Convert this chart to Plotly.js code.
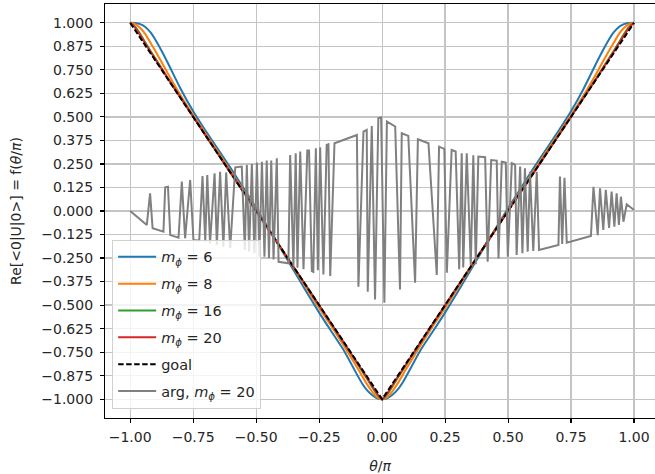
<!DOCTYPE html>
<html>
<head>
<meta charset="utf-8">
<script src="https://cdn.plot.ly/plotly-3.0.1.min.js"></script>
<style>html,body{margin:0;padding:0;background:#fff;} #plot{width:655px;height:474px;}</style>
</head>
<body>
<div id="plot"></div>
<script>
// curve sample positions (theta/pi)
const curveX = [-1, -0.98, -0.96, -0.94, -0.92, -0.9, -0.875, -0.85, -0.8, -0.75, -0.7, -0.6, -0.5, -0.4, -0.3, -0.25, -0.2, -0.15, -0.1, -0.08, -0.06, -0.04, -0.02, 0,
                0.02, 0.04, 0.06, 0.08, 0.1, 0.15, 0.2, 0.25, 0.3, 0.4, 0.5, 0.6, 0.7, 0.75, 0.8, 0.85, 0.875, 0.9, 0.92, 0.94, 0.96, 0.98, 1];
const m6 = [1.0, 0.999, 0.993, 0.978, 0.95, 0.91, 0.85, 0.785, 0.65, 0.53, 0.425, 0.225, 0.015, -0.205, -0.43, -0.54, -0.643, -0.745, -0.868, -0.915, -0.952, -0.978, -0.995, -1.0,
            -0.995, -0.978, -0.952, -0.915, -0.868, -0.745, -0.643, -0.54, -0.43, -0.205, 0.015, 0.225, 0.425, 0.53, 0.65, 0.785, 0.85, 0.91, 0.95, 0.978, 0.993, 0.999, 1.0];
const m8 = [1.0, 0.993, 0.972, 0.94, 0.895, 0.85, 0.79, 0.73, 0.615, 0.51, 0.41, 0.21, 0.005, -0.2, -0.41, -0.515, -0.615, -0.72, -0.83, -0.875, -0.92, -0.96, -0.99, -1.0,
            -0.99, -0.96, -0.92, -0.875, -0.83, -0.72, -0.615, -0.515, -0.41, -0.2, 0.005, 0.21, 0.41, 0.51, 0.615, 0.73, 0.79, 0.85, 0.895, 0.94, 0.972, 0.993, 1.0];
const m16 = [1.0, 0.978, 0.94, 0.895, 0.852, 0.81, 0.757, 0.705, 0.603, 0.502, 0.401, 0.2, 0.0, -0.2, -0.401, -0.502, -0.603, -0.705, -0.808, -0.85, -0.89, -0.935, -0.975, -1.0,
             -0.975, -0.935, -0.89, -0.85, -0.808, -0.705, -0.603, -0.502, -0.401, -0.2, 0.0, 0.2, 0.401, 0.502, 0.603, 0.705, 0.757, 0.81, 0.852, 0.895, 0.94, 0.978, 1.0];
const m20 = [1.0, 0.973, 0.933, 0.89, 0.847, 0.806, 0.755, 0.703, 0.602, 0.501, 0.4, 0.2, 0.0, -0.2, -0.4, -0.501, -0.602, -0.703, -0.805, -0.845, -0.886, -0.928, -0.97, -1.0,
             -0.97, -0.928, -0.886, -0.845, -0.805, -0.703, -0.602, -0.501, -0.4, -0.2, 0.0, 0.2, 0.4, 0.501, 0.602, 0.703, 0.755, 0.806, 0.847, 0.89, 0.933, 0.973, 1.0];
const goalX = [-1, 0, 1];
const goalY = [1, -1, 1];
// arg, m_phi = 20
const argX = [-1.0, -0.934, -0.921, -0.911, -0.868, -0.861, -0.85, -0.841, -0.808, -0.795, -0.782, -0.762, -0.749, -0.726, -0.713, -0.702, -0.694, -0.683, -0.665, -0.656,
  -0.643, -0.63, -0.619, -0.603, -0.583, -0.557, -0.545, -0.537, -0.528, -0.517, -0.507, -0.497, -0.487, -0.477, -0.467, -0.458, -0.449, -0.44, -0.431, -0.418,
  -0.411, -0.372, -0.365, -0.352, -0.343, -0.336, -0.325, -0.312, -0.297, -0.29, -0.279, -0.273, -0.263, -0.255, -0.246, -0.233, -0.22, -0.213, -0.206, -0.189,
  -0.1, -0.094, -0.074, -0.061, -0.057, -0.041, -0.028, -0.015, -0.004, 0.009, 0.019, 0.052, 0.071, 0.078, 0.104, 0.131, 0.142, 0.184, 0.217, 0.226,
  0.247, 0.257, 0.276, 0.292, 0.306, 0.316, 0.322, 0.336, 0.352, 0.362, 0.372, 0.382, 0.409, 0.419, 0.433, 0.455, 0.462, 0.475, 0.491, 0.499,
  0.515, 0.528, 0.534, 0.548, 0.557, 0.567, 0.578, 0.587, 0.6, 0.614, 0.623, 0.7, 0.706, 0.715, 0.724, 0.733, 0.829, 0.839, 0.856, 0.865,
  0.878, 0.888, 0.901, 0.911, 0.922, 0.931, 0.94, 0.948, 0.958, 0.971, 1.0];
const argY = [0.0, -0.074, 0.094, -0.092, -0.11, 0.126, 0.129, -0.128, -0.142, 0.156, -0.145, 0.165, -0.154, -0.158, 0.186, -0.163, 0.191, -0.172, 0.2, -0.181,
  0.209, -0.19, 0.205, -0.198, 0.232, 0.236, -0.207, 0.245, -0.216, 0.25, -0.225, 0.257, -0.243, 0.262, -0.243, 0.268, -0.25, 0.268, -0.257, 0.28,
  -0.27, -0.278, 0.298, -0.296, 0.307, -0.302, 0.316, -0.31, 0.321, 0.321, -0.319, -0.323, 0.333, -0.315, 0.339, -0.337, 0.351, 0.355, -0.346, 0.36,
  0.404, -0.402, 0.422, 0.431, -0.429, 0.452, -0.47, 0.493, 0.498, -0.488, 0.475, 0.449, -0.417, 0.413, 0.399, -0.381, 0.381, 0.36, -0.34, 0.342,
  0.33, -0.328, 0.324, 0.316, -0.31, 0.307, -0.3, 0.307, -0.287, 0.296, -0.283, 0.289, 0.286, -0.27, 0.271, 0.268, -0.252, 0.262, 0.257, -0.243,
  0.254, 0.245, -0.234, 0.236, -0.225, 0.227, -0.216, 0.209, -0.213, 0.209, -0.207, -0.181, 0.183, -0.175, 0.176, -0.169, -0.133, 0.129, -0.128, 0.121,
  -0.101, 0.112, -0.09, 0.103, -0.083, 0.094, -0.074, 0.076, -0.057, 0.036, 0.005];

const xTickVals = [-1, -0.75, -0.5, -0.25, 0, 0.25, 0.5, 0.75, 1];
const xTickText = ["\u22121.00", "\u22120.75", "\u22120.50", "\u22120.25", "0.00", "0.25", "0.50", "0.75", "1.00"];
const yTickVals = [-1, -0.875, -0.75, -0.625, -0.5, -0.375, -0.25, -0.125, 0, 0.125, 0.25, 0.375, 0.5, 0.625, 0.75, 0.875, 1];
const yTickText = ["\u22121.000", "\u22120.875", "\u22120.750", "\u22120.625", "\u22120.500", "\u22120.375", "\u22120.250", "\u22120.125", "0.000",
  "0.125", "0.250", "0.375", "0.500", "0.625", "0.750", "0.875", "1.000"];

const FONT = 'DejaVu Sans, sans-serif';
function curve(y, name, color, grp) {
  return {x: curveX, y: y, type: 'scatter', mode: 'lines', name: name, legendgroup: grp,
          line: {color: color, width: 2, shape: 'spline', smoothing: 0.5}};
}
const traces = [
  curve(m6, '<i>m</i><sub><i>ϕ</i></sub> = 6', '#1f77b4', 'a'),
  curve(m8, '<i>m</i><sub><i>ϕ</i></sub> = 8', '#ff7f0e', 'b'),
  curve(m16, '<i>m</i><sub><i>ϕ</i></sub> = 16', '#2ca02c', 'c'),
  curve(m20, '<i>m</i><sub><i>ϕ</i></sub> = 20', '#d62728', 'd'),
  {x: goalX, y: goalY, type: 'scatter', mode: 'lines', name: 'goal', legendgroup: 'e',
   line: {color: '#000000', width: 2, dash: '5.5px,2.5px'}},
  {x: argX, y: argY, type: 'scatter', mode: 'lines', name: 'arg, <i>m</i><sub><i>ϕ</i></sub> = 20', legendgroup: 'f',
   line: {color: '#808080', width: 2}}
];
const axisCommon = {
  showgrid: true, gridcolor: '#c4c4c4', gridwidth: 1.2, zeroline: false,
  showline: true, linecolor: '#000000', linewidth: 1.1,
  ticks: 'outside', ticklen: 4, tickwidth: 1.1, tickcolor: '#000000',
  tickfont: {family: FONT, size: 14, color: '#262626'}, tickmode: 'array'
};
const layout = {
  width: 655, height: 474,
  margin: {l: 105, r: 0, t: 4, b: 56},
  paper_bgcolor: '#ffffff', plot_bgcolor: '#ffffff',
  font: {family: FONT, size: 14, color: '#262626'},
  showlegend: true,
  xaxis: Object.assign({}, axisCommon, {
    range: [-1.1, 1.0833], tickvals: xTickVals, ticktext: xTickText, mirror: true, ticklabelstandoff: 2,
    title: {text: '<i>θ</i>/<i>π</i>', font: {family: FONT, size: 14, color: '#262626'}, standoff: 20}
  }),
  yaxis: Object.assign({}, axisCommon, {
    range: [-1.1, 1.1], tickvals: yTickVals, ticktext: yTickText, mirror: false, ticklabelstandoff: 4,
    title: {text: 'Re[&lt;0|U|0&gt;] = f(<i>θ</i>/<i>π</i>)', font: {family: FONT, size: 14, color: '#262626'}, standoff: 16}
  }),
  legend: {
    x: 0.013, y: 0.022, xanchor: 'left', yanchor: 'bottom',
    bgcolor: 'rgba(255,255,255,0.8)', bordercolor: '#d0d0d0', borderwidth: 1,
    font: {family: FONT, size: 14.5, color: '#262626'},
    traceorder: 'grouped', tracegroupgap: 5, itemwidth: 38
  }
};
Plotly.newPlot('plot', traces, layout, {displayModeBar: false, staticPlot: true});
</script>
</body>
</html>
